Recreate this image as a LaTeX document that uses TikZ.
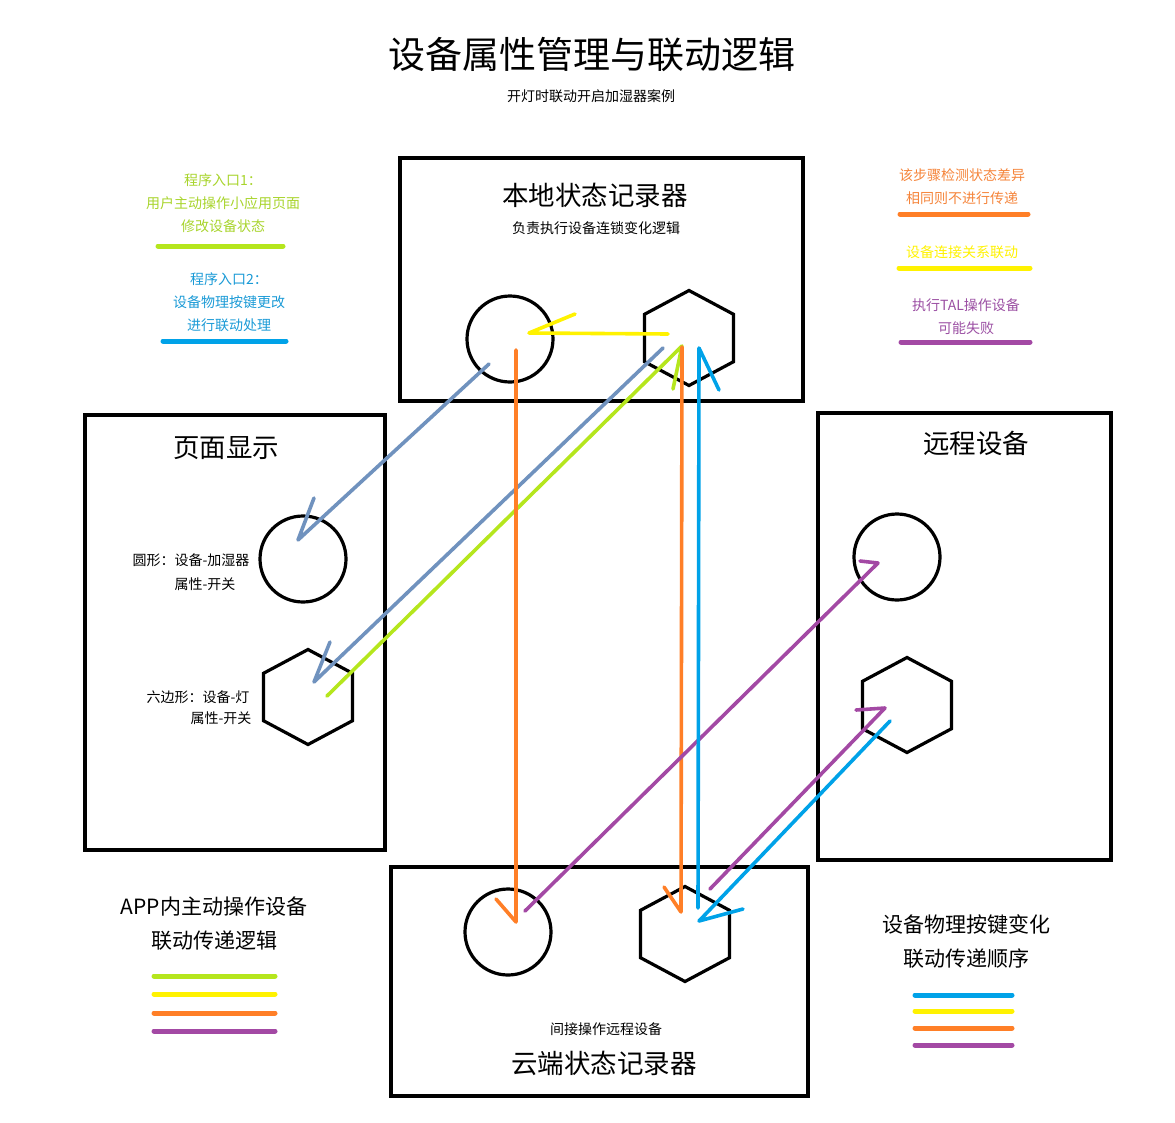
\documentclass[tikz,border=0pt]{standalone}
\usepackage{fontspec}
\setmainfont{Noto Sans CJK SC}
\usetikzlibrary{shapes.geometric,calc}
\definecolor{cgreen}{HTML}{B5E61D}
\definecolor{cyellow}{HTML}{FFF200}
\definecolor{corange}{HTML}{FF7F27}
\definecolor{cpurple}{HTML}{A349A4}
\definecolor{cblue}{HTML}{00A2E8}
\definecolor{cgray}{HTML}{7092BE}
\definecolor{tgreen}{HTML}{A8D42C}
\definecolor{torange}{HTML}{F5843A}
\definecolor{tblue}{HTML}{1A9AD6}
\definecolor{tpurple}{HTML}{9B4FA3}
\tikzset{
box/.style = {draw, line width=3.6pt, rectangle, inner sep=0pt},
roundel/.style = {draw, line width=3.2pt, circle, inner sep=0pt, minimum size=86pt},
hexa/.style = {draw, line width=3.2pt, regular polygon, regular polygon sides=6,
  shape border rotate=30, inner sep=0pt, minimum size=95pt, transform shape, xscale=1.08},
flow/.style = {line width=3.6pt, line cap=round, line join=round},
key/.style = {line width=5pt, line cap=round},
big/.style = {font=\fontsize{26.5}{30}\selectfont},
small/.style = {font=\fontsize{14}{23}\selectfont, align=center},
mid/.style = {font=\fontsize{21}{34}\selectfont, align=center}
}

\begin{document}
\begin{tikzpicture}[x=1pt,y=-1pt]
    \useasboundingbox (0,0) rectangle (1175,1122);
    % titles
    \node [font=\fontsize{37}{44}\selectfont] (title) at (592,55) {设备属性管理与联动逻辑};
    \node [font=\fontsize{14}{18}\selectfont] (subtitle) at (591,96) {开灯时联动开启加湿器案例};

    % the four boxes
    \node [box, minimum width=403pt, minimum height=243pt] (local) at (601.5,279.5) {};
    \node [box, minimum width=300pt, minimum height=435pt] (page) at (235,632.5) {};
    \node [box, minimum width=293pt, minimum height=447pt] (remote) at (964.5,636.5) {};
    \node [box, minimum width=417pt, minimum height=229pt] (cloud) at (599.5,981.5) {};
    \node [big] (localname) at (595,195) {本地状态记录器};
    \node [font=\fontsize{14}{18}\selectfont] (localnote) at (596,228) {负责执行设备连锁变化逻辑};
    \node [big] (pagename) at (226,448) {页面显示};
    \node [big] (remotename) at (976,443) {远程设备};
    \node [font=\fontsize{14}{18}\selectfont] (cloudnote) at (606,1029) {间接操作远程设备};
    \node [big] (cloudname) at (604,1063) {云端状态记录器};

    % devices: circle = humidifier, hexagon = lamp
    \node [roundel] (lcirc) at (510,339) {};
    \node [hexa] (lhex) at (689,338) {};
    \node [roundel] (pcirc) at (303,559) {};
    \node [hexa] (phex) at (308,697) {};
    \node [roundel] (rcirc) at (897,557) {};
    \node [hexa] (rhex) at (907,705) {};
    \node [roundel] (ccirc) at (508,932) {};
    \node [hexa] (chex) at (685,934) {};
    \node [font=\fontsize{14}{18}\selectfont] (pcirclabel) at (191,560) {圆形：设备-加湿器};
    \node [font=\fontsize{14}{18}\selectfont] (pcircprop) at (205,584) {属性-开关};
    \node [font=\fontsize{14}{18}\selectfont] (phexlabel) at (198,697) {六边形：设备-灯};
    \node [font=\fontsize{14}{18}\selectfont] (phexprop) at (221,718) {属性-开关};

    % legends
    \node [small, text=tgreen] (entry1) at (223,203) {程序入口1：\\用户主动操作小应用页面\\修改设备状态};
    \draw [key, cgreen] (158,246) -- (283,246);
    \node [small, text=tblue] (entry2) at (229,302) {程序入口2：\\设备物理按键更改\\进行联动处理};
    \draw [key, cblue] (163,341) -- (286,341);
    \node [small, text=torange] (keyorange) at (962,186.5) {该步骤检测状态差异\\相同则不进行传递};
    \draw [key, corange] (900,214) -- (1028,214);
    \node [small, text=cyellow] (keyyellow) at (962,252) {设备连接关系联动};
    \draw [key, cyellow] (899,268) -- (1030,268);
    \node [small, text=tpurple] (keypurple) at (966,317) {执行TAL操作设备\\可能失败};
    \draw [key, cpurple] (901,342) -- (1030,342);

    \node [mid] (appkey) at (214,924) {APP内主动操作设备\\联动传递逻辑};
    \foreach \c/\y in {cgreen/976, cyellow/994, corange/1013, cpurple/1031}
        \draw [key, \c] (154,\y) -- (275,\y);
    \node [mid] (btnkey) at (966,941) {设备物理按键变化\\联动传递顺序};
    \foreach \c/\y in {cblue/995, cyellow/1011, corange/1028, cpurple/1045}
        \draw [key, \c] (915,\y) -- (1012,\y);

    % hand drawn arrows, one barb each
    \draw [flow, cyellow] ($(lhex)+(-21,-4)$) -- ($(lcirc)+(19,-6)$) -- ++(46,-19);
    \draw [flow, cgray] ($(lcirc)+(-21,25)$) -- ($(pcirc)+(-5,-19)$) -- ++(16,-42);
    \draw [flow, cgray] ($(lhex)+(-26,10)$) -- ($(phex)+(6,-15)$) -- ++(16,-40);
    \draw [flow, cgreen] ($(phex)+(19,-1)$) -- ($(lhex)+(-7,8)$) -- ++(-9,43);
    \draw [flow, corange] ($(lcirc)+(6,11)$) -- ($(ccirc)+(8,-10)$) -- ++(-20,-23);
    \draw [flow, corange] ($(lhex)+(-7,9)$) -- ($(chex)+(-4,-22)$) -- ++(-17,-25);
    \draw [flow, cpurple] ($(ccirc)+(17,-21)$) -- ($(rcirc)+(-19,6)$) -- ++(-18,-2);
    \draw [flow, cpurple] ($(chex)+(25,-45)$) -- ($(rhex)+(-22,3)$) -- ++(-29,2);
    \draw [flow, cblue] ($(rhex)+(-17,16)$) -- ($(chex)+(14,-13)$) -- ++(44,-12);
    \draw [flow, cblue] ($(chex)+(13,-26)$) -- ($(lhex)+(10,10)$) -- ++(20,42);
\end{tikzpicture}
\end{document}
